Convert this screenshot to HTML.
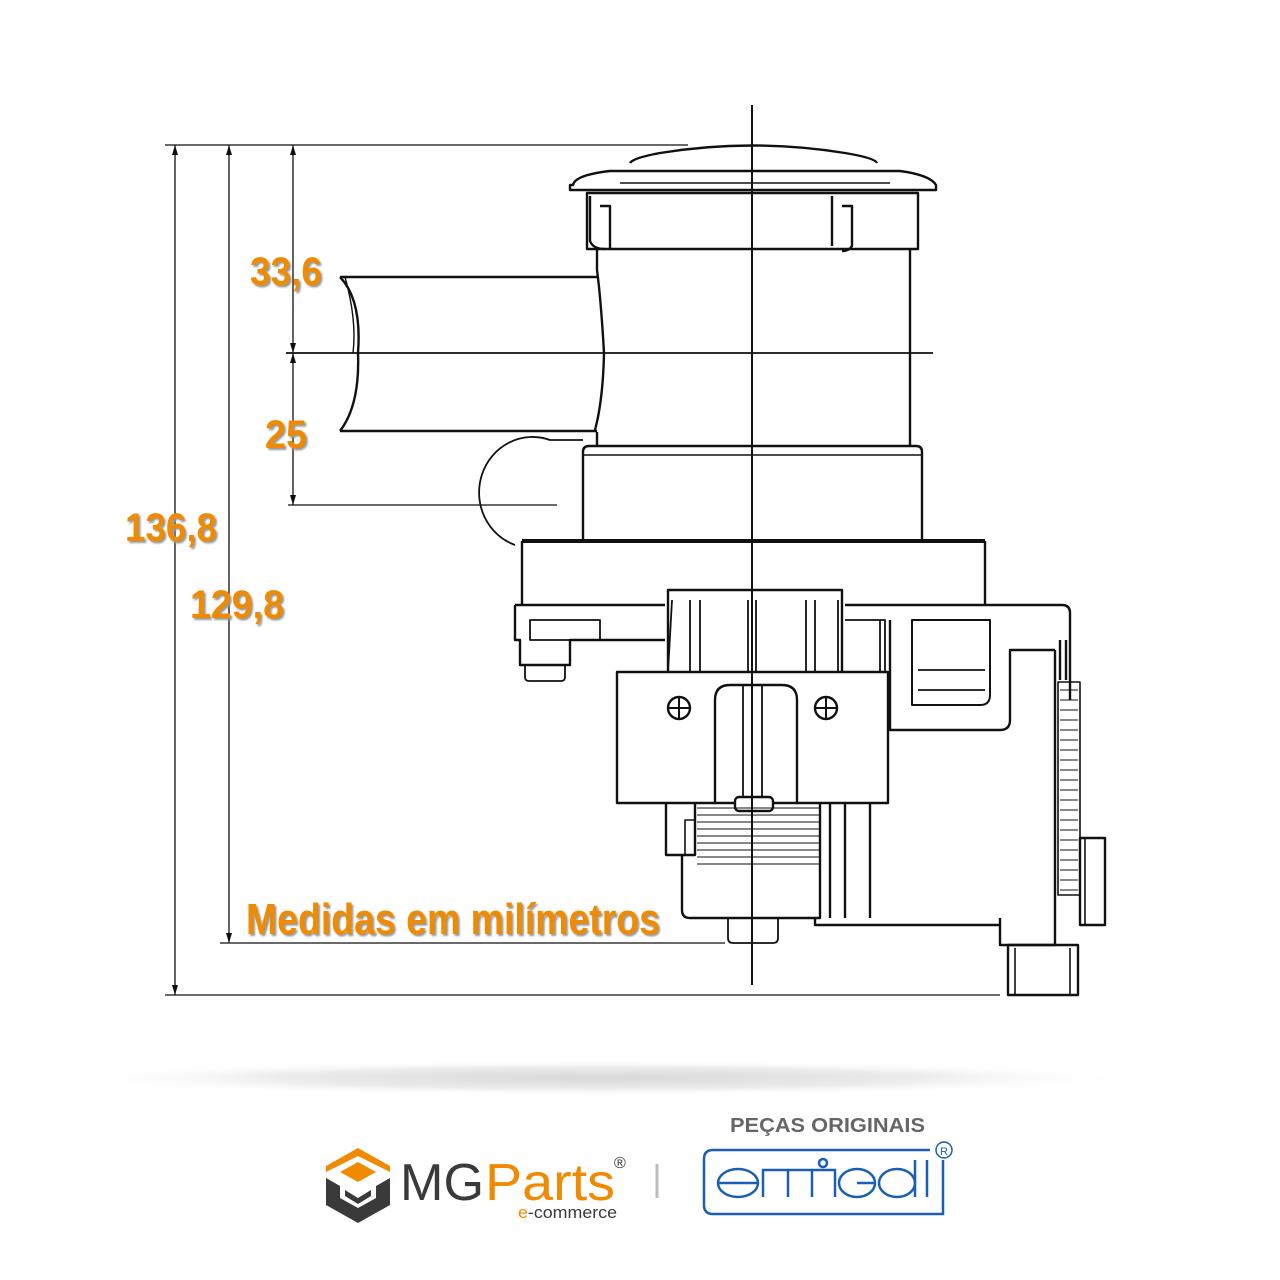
<!DOCTYPE html>
<html><head><meta charset="utf-8"><style>
html,body{margin:0;padding:0;background:#fff}
svg{display:block}
</style></head><body>
<svg width="1280" height="1280" viewBox="0 0 1280 1280" xmlns="http://www.w3.org/2000/svg">
<defs>
<radialGradient id="sh" cx="0.5" cy="0.5" r="0.5">
<stop offset="0" stop-color="#d8d8d8"/><stop offset="0.6" stop-color="#ececec"/><stop offset="1" stop-color="#fff" stop-opacity="0"/>
</radialGradient>
</defs>
<rect width="1280" height="1280" fill="#fff"/>
<ellipse cx="600" cy="1078" rx="540" ry="18" fill="url(#sh)"/>

<g stroke="#111" fill="none" stroke-width="1.3">
<line x1="165" y1="145" x2="688" y2="145"/>
<line x1="175" y1="145" x2="175" y2="995"/>
<line x1="229" y1="145" x2="229" y2="943"/>
<line x1="293" y1="145" x2="293" y2="505"/>
<line x1="165" y1="995" x2="1000" y2="995"/>
<line x1="220" y1="943" x2="725" y2="943"/>
<line x1="288" y1="505" x2="557" y2="505"/>
<line x1="286" y1="353" x2="933" y2="353" stroke-width="1.8"/>
</g>
<g fill="#111">
<path d="M175 145 l-3 10 h6z M175 995 l-3 -10 h6z M229 145 l-3 10 h6z M229 943 l-3 -10 h6z M293 145 l-3 10 h6z M293 353 l-3 -10 h6z M293 353 l-3 10 h6z M293 505 l-3 -10 h6z"/>
</g>

<g stroke="#111" fill="none" stroke-width="2.4" stroke-linejoin="round">
<path d="M630 163 Q633 158 660 153 Q752 138 845 153 Q875 158 877 163"/>
<path d="M573 185 Q575 175 610 171 L900 171 Q930 175 936 185 L936 190 L570 190 L570 185Z"/>
<line x1="620" y1="183" x2="890" y2="183" stroke-width="1.6"/>
<rect x="587" y="193" width="331" height="56"/>
<path d="M590 196 v45 q3 8 15 8 M600 206 h10 v43 M832 196 v50 M842 206 h10 v40 q-3 5 -10 5"/>
<line x1="597" y1="249" x2="597" y2="270"/>
<path d="M597 270 Q601 300 604 353 Q603 400 595 430"/>
<line x1="910" y1="249" x2="910" y2="445"/>
<line x1="597" y1="432" x2="597" y2="445"/>
<line x1="340" y1="277" x2="597" y2="277"/>
<line x1="340" y1="431" x2="597" y2="431"/>
<path d="M340 277 Q362 300 358 353 Q360 405 340 431"/>
<path d="M345 277 Q357 320 353 353" stroke-width="1.4"/>
<path d="M583 540 V452 q0 -6 6 -6 H916 q6 0 6 6 V540"/>
<line x1="583" y1="455" x2="922" y2="455" stroke-width="1.6"/>
<path d="M583 440 H550 A50 52 0 0 0 515 545" stroke-width="1.8"/>
<line x1="522" y1="541" x2="985" y2="541" stroke-width="4"/>
<path d="M522 541 V605 M985 541 V605"/>
<path d="M515 605 H665 M845 605 H1062 q8 0 8 8 V700"/>
<path d="M515 605 V640 H520 V665 H570 V640 H665"/>
<rect x="530" y="620" width="70" height="20" stroke-width="1.8"/>
<path d="M525 665 v12 q0 4 4 4 h32 q4 0 4 -4 v-12" stroke-width="1.8"/>
<path d="M668 672 V590 H842 V672"/>
<path d="M672 600 L668 672 M690 600 V672 M700 600 V672 M748 600 V672 M756 600 V672 M806 600 V672 M815 600 V672 M838 600 V672" stroke-width="1.8"/>
<path d="M845 620 H885 V672 M880 620 V672" stroke-width="1.8"/>
<path d="M912 620 H990 V695 q0 10 -10 10 H912 Z" stroke-width="2"/>
<path d="M918 690 H985 M918 670 H985" stroke-width="1.8"/>
<path d="M890 620 V730 H1000 q10 0 10 -10 V650 h45"/>
<path d="M1055 650 V945 H1000 V918" />
<path d="M1060 640 V680 M1066 640 V680"/>
<rect x="1058" y="682" width="22" height="213" stroke-width="1.6"/>
<path d="M1060 690 H1078 M1060 700 H1078 M1060 710 H1078 M1060 720 H1078 M1060 730 H1078 M1060 740 H1078 M1060 750 H1078 M1060 760 H1078 M1060 770 H1078 M1060 780 H1078 M1060 790 H1078 M1060 800 H1078 M1060 810 H1078 M1060 820 H1078 M1060 830 H1078 M1060 840 H1078 M1060 850 H1078 M1060 860 H1078 M1060 870 H1078 M1060 880 H1078 M1060 890 H1078" stroke-width="1"/>
<rect x="1080" y="838" width="25" height="87"/>
<path d="M1085 838 V925" stroke-width="1.6"/>
<rect x="1008" y="945" width="70" height="50"/>
<path d="M1015 948 V995 M1070 948 V995" stroke-width="1.6"/>
<rect x="617" y="672" width="271" height="131" fill="#fff"/>
<path d="M715 803 V700 q0 -15 15 -15 H782 q15 0 15 15 V803"/>
<path d="M743 685 V803 M762 685 V803" stroke-width="1.8"/>
<rect x="735" y="797" width="38" height="14" rx="4" fill="#fff"/>
<circle cx="679" cy="708" r="11"/><circle cx="826" cy="708" r="11"/>
<path d="M668 708 H690 M679 697 V719 M815 708 H837 M826 697 V719" stroke-width="2"/>
<path d="M666 803 V855 H695 V803" />
<rect x="685" y="820" width="10" height="35" stroke-width="1.6"/>
<path d="M682 855 V910 q0 8 8 8 H820 V803"/>
<path d="M697 808 H820 M697 815 H820 M697 822 H820 M697 829 H820 M697 836 H820 M697 843 H820 M697 850 H820 M697 857 H820 M697 864 H820" stroke-width="1"/>
<path d="M830 803 V918 M845 803 V918 M870 803 V918"/>
<path d="M815 918 V925 H1000"/>
<path d="M728 918 V938 q0 5 5 5 H773 q5 0 5 -5 V918" stroke-width="1.8"/>
</g>
<line x1="752" y1="105" x2="752" y2="985" stroke="#111" stroke-width="2"/>

<g font-family="'Liberation Sans Narrow','Liberation Sans',sans-serif" font-weight="bold" fill="#f08a00">
<text x="250" y="285" font-size="40" textLength="72" lengthAdjust="spacingAndGlyphs" style="text-shadow:2px 2px 2px #999">33,6</text>
<text x="265" y="448" font-size="40" textLength="42" lengthAdjust="spacingAndGlyphs" style="text-shadow:2px 2px 2px #999">25</text>
<text x="125" y="541" font-size="40" textLength="92" lengthAdjust="spacingAndGlyphs" style="text-shadow:2px 2px 2px #999">136,8</text>
<text x="190" y="618" font-size="40" textLength="94" lengthAdjust="spacingAndGlyphs" style="text-shadow:2px 2px 2px #999">129,8</text>
<text x="246" y="934" font-size="44" textLength="414" lengthAdjust="spacingAndGlyphs" style="text-shadow:2px 2px 2px #999">Medidas em milímetros</text>
</g>

<path d="M358 1148 L390 1166 L390 1172 L358 1156 L326 1172 L326 1166Z" fill="#f08a00"/>
<path d="M340 1172 L358 1162 L376 1172 L358 1182Z" fill="#f08a00"/>
<path d="M326 1178 L340 1186 V1198 L358 1208 L376 1198 V1186 L390 1178 V1205 L358 1223 L326 1205Z" fill="#3a3a3a"/>
<path d="M345 1190 L358 1198 L371 1190 V1196 L358 1204 L345 1196Z" fill="#3a3a3a"/>
<text x="400" y="1200" font-family="'Liberation Sans',sans-serif" font-size="52" fill="#3a3a3a" textLength="84" lengthAdjust="spacingAndGlyphs">MG</text>
<text x="485" y="1200" font-family="'Liberation Sans',sans-serif" font-size="52" fill="#f08a00" textLength="130" lengthAdjust="spacingAndGlyphs">Parts</text>
<text x="614" y="1168" font-family="'Liberation Sans',sans-serif" font-size="16" fill="#333">®</text>
<text x="518" y="1218" font-family="'Liberation Sans',sans-serif" font-size="17" fill="#3a3a3a" textLength="99" lengthAdjust="spacingAndGlyphs"><tspan fill="#f08a00">e</tspan>-commerce</text>
<line x1="657" y1="1164" x2="657" y2="1198" stroke="#bbb" stroke-width="3"/>

<text x="730" y="1132" font-family="'Liberation Sans',sans-serif" font-weight="bold" font-size="20" fill="#666" textLength="195" lengthAdjust="spacingAndGlyphs">PEÇAS ORIGINAIS</text>
<g stroke="#1a5fb4" fill="none" stroke-width="2.5">
<path d="M930 1150 H713 q-9 0 -9 9 V1205 q0 9 9 9 H943 V1160"/>
<circle cx="944" cy="1150" r="8" stroke-width="1.5"/>
<ellipse cx="738" cy="1183" rx="20" ry="14"/>
<line x1="718" y1="1183" x2="758" y2="1183"/>
<path d="M763 1197 V1170 H835 V1197 M788 1170 V1197 M812 1170 V1197"/>
<circle cx="823" cy="1163" r="4"/>
<ellipse cx="857" cy="1183" rx="18" ry="14"/>
<ellipse cx="897" cy="1183" rx="18" ry="14"/>
<line x1="857" y1="1183" x2="875" y2="1183"/>
<path d="M915 1160 V1197 M927 1160 V1197"/>
</g>
<text x="940" y="1155" font-family="'Liberation Sans',sans-serif" font-size="11" fill="#1a5fb4">R</text>
</svg>
</body></html>
